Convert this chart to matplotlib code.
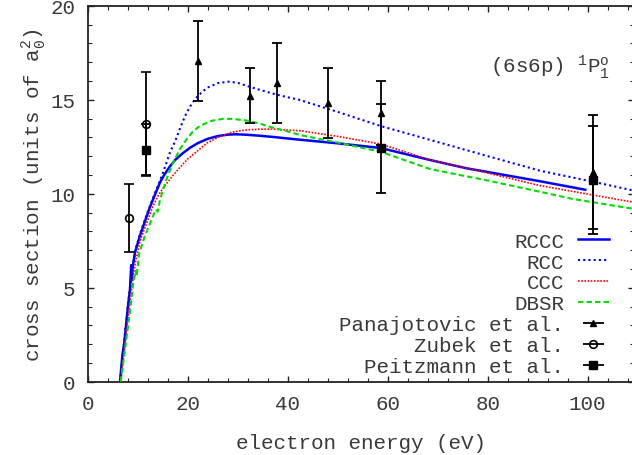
import matplotlib
matplotlib.use('Agg')
import matplotlib.pyplot as plt
from matplotlib.ticker import MultipleLocator

# ---------------- data ----------------
rccc_e = [6.46, 6.93, 7.33, 8.0, 8.46, 8.7, 8.8, 9.0, 9.46, 10.46, 11.8, 12.4, 13.1, 14.46,
          15.3, 16.3, 17.5, 19.0, 20.5, 22.1, 24.0, 26.1, 28.0, 29.5, 31.5, 34.1, 37.0,
          39.5, 42.5, 50.0, 58.6, 68.5, 75.8, 90.5, 99.5]
rccc_s = [0.0, 1.38, 2.1, 3.87, 4.93, 6.2, 5.4, 6.1, 6.88, 7.77, 8.8, 9.25, 9.72, 10.6,
          11.0, 11.4, 11.8, 12.15, 12.45, 12.7, 12.92, 13.07, 13.14, 13.16, 13.14, 13.09, 13.02,
          12.95, 12.87, 12.68, 12.43, 11.79, 11.35, 10.66, 10.21]

rcc_e = [6.46, 7.3, 8.0, 8.46, 9.46, 10.46, 11.8, 13.1, 14.46, 15.1, 16.46, 17.5, 18.5, 19.5,
         20.5, 21.5, 23.0, 24.1, 26.0, 28.1, 30.0, 32.1, 34.5, 36.8, 39.5, 42.5, 50.0, 58.6,
         68.5, 80.0, 90.5, 101.0, 109.3]
rcc_s = [0.0, 2.15, 3.95, 5.0, 6.95, 7.85, 8.9, 9.8, 10.7, 11.15, 12.2, 12.8, 13.5, 14.15,
         14.65, 15.04, 15.45, 15.66, 15.88, 15.96, 15.9, 15.71, 15.52, 15.34, 15.16, 14.98, 14.35, 13.6,
         12.86, 12.0, 11.22, 10.64, 10.16]

ccc_e = [6.6, 7.5, 8.5, 9.5, 10.5, 12.0, 13.0, 14.2, 15.46, 17.0, 18.46, 20.0, 22.5, 24.0,
         26.1, 28.8, 30.5, 32.1, 34.5, 36.8, 39.5, 42.5, 50.0, 58.6, 68.5, 80.0, 90.5, 109.3]
ccc_s = [0.0, 2.0, 4.4, 6.3, 7.5, 8.6, 9.3, 9.95, 10.43, 10.95, 11.4, 11.85, 12.4, 12.72,
         13.0, 13.27, 13.35, 13.4, 13.43, 13.44, 13.39, 13.35, 13.05, 12.64, 11.8, 11.1, 10.43, 9.54]

dbsr_e = [6.6, 7.5, 8.5, 9.13, 9.6, 9.8, 10.26, 11.46, 13.1, 13.6, 14.0, 14.4, 15.1,
          16.0, 17.1, 18.46, 19.8, 21.0, 22.5, 24.8, 27.0, 29.0, 32.1, 34.5, 36.8, 39.5,
          42.5, 50.0, 58.6, 68.5, 80.0, 90.5, 97.0, 109.3]
dbsr_s = [0.0, 1.8, 3.8, 5.29, 5.9, 5.6, 6.79, 7.77, 8.83, 9.15, 9.05, 9.6, 10.25,
          10.95, 11.67, 12.38, 12.9, 13.3, 13.62, 13.88, 13.98, 13.98, 13.88, 13.72, 13.53, 13.35,
          13.12, 12.72, 12.23, 11.31, 10.7, 10.1, 9.72, 9.19]

pan_e = [22.1, 32.5, 37.8, 48.0, 58.6, 101.0]
pan_s = [17.06, 15.22, 15.89, 14.84, 14.28, 11.17]
pan_err = [2.15, 1.48, 2.15, 1.86, 1.7, 3.03]

zub_e = [8.26, 11.6]
zub_s = [8.72, 13.7]
zub_err = [1.8, 2.75]

pei_e = [11.6, 58.6, 101.0]
pei_s = [12.35, 12.41, 10.73]
pei_err = [1.35, 2.38, 2.89]

x_ticks = [0, 20, 40, 60, 80, 100]
y_ticks = [0, 5, 10, 15, 20]

labels = ['RCCC', 'RCC', 'CCC', 'DBSR', 'Panajotovic et al.', 'Zubek et al.', 'Peitzmann et al.']

# ---------------- style ----------------
FONT = 'Liberation Mono'
TXT = '#3a3a3a'
plt.rcParams['font.family'] = [FONT, 'DejaVu Sans']
plt.rcParams['mathtext.fontset'] = 'custom'
plt.rcParams['mathtext.rm'] = FONT
plt.rcParams['mathtext.it'] = FONT
plt.rcParams['mathtext.bf'] = FONT

W, H = 632, 456
fig = plt.figure(figsize=(W / 100, H / 100), dpi=100)
left, right, bottom, top = 87.7, 634.0, 382.7, 6.7
ax = fig.add_axes([left / W, 1 - bottom / H, (right - left) / W, (bottom - top) / H])

ax.set_xlim(0, (right - left) / 5.0)
ax.set_ylim(0, 20)

l1, = ax.plot(rccc_e, rccc_s, color='#0000ff', lw=1.8, solid_joinstyle='round', zorder=3)
l2, = ax.plot(rcc_e, rcc_s, color='#0000ff', lw=1.5, linestyle=(0, (1, 1.5)), zorder=3)
l3, = ax.plot(ccc_e, ccc_s, color='#ff0000', lw=1.2, linestyle=(0, (1, 0.9)), zorder=3)
l4, = ax.plot(dbsr_e, dbsr_s, color='#00dd00', lw=1.5, linestyle=(0, (2.6, 1.5)), zorder=3)

ekw = dict(color='black', ecolor='black', elinewidth=1.3, capsize=3.5, capthick=1.3,
           lw=0, zorder=4)
ax.errorbar(pan_e, pan_s, yerr=pan_err, fmt='^', ms=4.5, mfc='black', mec='black', **ekw)
ax.errorbar(zub_e, zub_s, yerr=zub_err, fmt='o', ms=5.5, mfc='none', mec='black', mew=1.2, **ekw)
ax.errorbar(pei_e, pei_s, yerr=pei_err, fmt='s', ms=5.5, mfc='black', mec='black', **ekw)

# legend proxies (horizontal bars as in the original)
pkw = dict(color='black', ecolor='black', elinewidth=1.3, capsize=3.5, capthick=1.3, lw=0)
p1 = ax.errorbar([], [], xerr=[], fmt='^', ms=4.5, mfc='black', mec='black', **pkw)
p2 = ax.errorbar([], [], xerr=[], fmt='o', ms=5.5, mfc='none', mec='black', mew=1.2, **pkw)
p3 = ax.errorbar([], [], xerr=[], fmt='s', ms=5.5, mfc='black', mec='black', **pkw)

leg = ax.legend([l1, l2, l3, l4, p1, p2, p3], labels, loc='lower right',
                bbox_to_anchor=(609 / W, (H - 377) / H), bbox_transform=fig.transFigure,
                frameon=False, markerfirst=False, fontsize=15, handlelength=1.5,
                handletextpad=0.65, labelspacing=0.09, borderaxespad=0, borderpad=0)
for t in leg.get_texts():
    t.set_color(TXT)

ax.text(490 / W, 1 - 68 / H, r'(6s6p) $^{1}\mathrm{P}^{\mathrm{o}}_{1}$', transform=fig.transFigure,
        fontsize=15, color=TXT, ha='left', va='center')

ax.set_xticks(x_ticks)
ax.set_yticks(y_ticks)
ax.xaxis.set_minor_locator(MultipleLocator(4))
ax.yaxis.set_minor_locator(MultipleLocator(1))
ax.tick_params(which='both', direction='in', top=True, right=True, colors='#222222',
               labelcolor=TXT, labelsize=15)
ax.tick_params(which='major', length=4.2, width=1.0, pad=9)
ax.tick_params(which='minor', length=2.8, width=0.8)
for s in ax.spines.values():
    s.set_linewidth(1.3)
    s.set_color('#222222')

ax.set_xlabel('electron energy (eV)', fontsize=15, color=TXT, labelpad=14)
ax.set_ylabel(r'cross section (units of a$_0^2$)', fontsize=15, color=TXT, labelpad=1)

fig.savefig('out.png', dpi=100)
